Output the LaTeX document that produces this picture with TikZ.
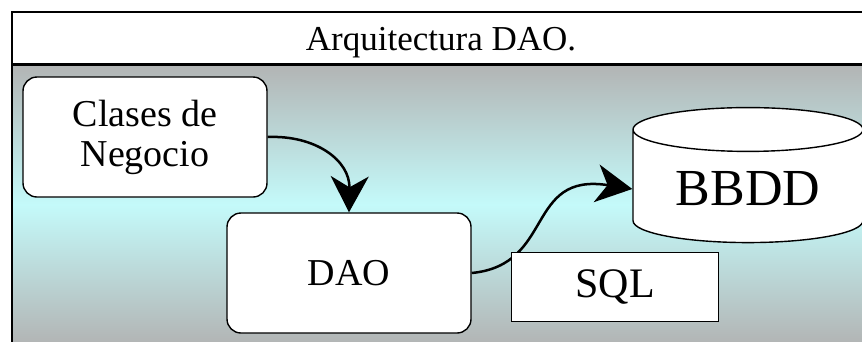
\documentclass[tikz,border=0pt]{standalone}
\usepackage{fontspec}
\setmainfont{Liberation Serif}
\usetikzlibrary{arrows.meta}
\usetikzlibrary{shapes.geometric}

\definecolor{fondogris}{RGB}{178,180,180}
\definecolor{fondocian}{RGB}{196,250,250}

\begin{document}
\begin{tikzpicture}[x=1pt,y=-1pt,
        caja/.style={draw=black,line width=1.4pt,fill=white,rounded corners=14pt,
            minimum width=244pt,minimum height=120pt,align=center,
            font=\fontsize{38}{40}\selectfont}]
        \useasboundingbox (0,0) rectangle (862,341);
        \fill[white] (0,0) rectangle (862,341);
        % fondo
        \shade[top color=fondogris,bottom color=fondogris,middle color=fondocian] (12,64) rectangle (880,345);
        \draw[line width=2pt] (12,360) -- (12,12) -- (880,12);
        \draw[line width=3pt] (12,64) -- (880,64);
        \node[anchor=base] (titulo) at (441,50) {\fontsize{35}{37}\selectfont Arquitectura DAO.};

        \node[caja] (negocio) at (145,137) {Clases de\\Negocio};
        \node[caja] (dao) at (349,273) {DAO};
        \node[cylinder,shape border rotate=90,aspect=0.29,draw,line width=1.4pt,fill=white,
            minimum width=230pt,minimum height=135pt,font=\fontsize{52}{54}\selectfont] (bbdd) at (748,189) {BBDD};

        \begin{scope}[>={Stealth[length=36pt,width=38pt,inset=11pt]},line width=2.5pt]
            \draw [->] (negocio.east) .. controls (315,135) and (350,160) .. (dao.north);
            \draw [->] (dao.east) .. controls (555,265) and (525,172) .. (bbdd.west);
        \end{scope}

        \node[draw,line width=1.4pt,fill=white,minimum width=207pt,minimum height=69pt,
            font=\fontsize{42}{44}\selectfont] (sql) at (615,287) {SQL};
\end{tikzpicture}
\end{document}
